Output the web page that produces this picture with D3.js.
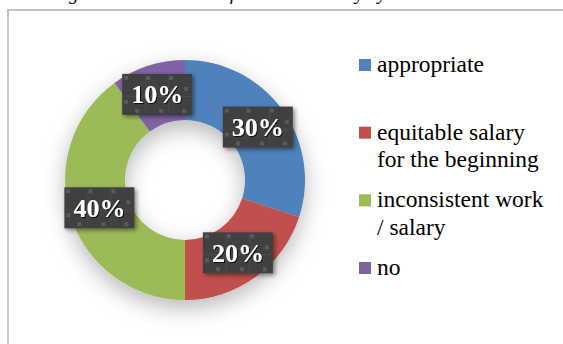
<!DOCTYPE html>
<html>
<head>
<meta charset="utf-8">
<script src="https://cdn.jsdelivr.net/npm/d3@7"></script>
<style>
  body { margin: 0; background: #fff; overflow: hidden; }
  svg { display: block; }
  text { font-family: "Liberation Serif", "DejaVu Serif", serif; }
</style>
</head>
<body>
<script>
// data
var categories = ["appropriate", "equitable salary for the beginning", "inconsistent work / salary", "no"];
var legendLines = [["appropriate"], ["equitable salary", "for the beginning"], ["inconsistent work", "/ salary"], ["no"]];
var shares = [30, 20, 40, 10];
var labels = ["30%", "20%", "40%", "10%"];
var colors = ["#4f81bd", "#c0504d", "#9bbb59", "#8064a2"];

var width = 563, height = 344;

var svg = d3.select("body").append("svg")
    .attr("width", width)
    .attr("height", height);

var defs = svg.append("defs");

// soft shadow under the ring
var f = defs.append("filter").attr("id", "ringShadow")
    .attr("x", "-40%").attr("y", "-40%").attr("width", "180%").attr("height", "180%");
f.append("feDropShadow").attr("dx", 0).attr("dy", 8)
    .attr("stdDeviation", 11).attr("flood-color", "#000").attr("flood-opacity", 0.28);

var fb = defs.append("filter").attr("id", "boxShadow")
    .attr("x", "-30%").attr("y", "-30%").attr("width", "160%").attr("height", "160%");
fb.append("feDropShadow").attr("dx", 2).attr("dy", 2)
    .attr("stdDeviation", 2).attr("flood-color", "#000").attr("flood-opacity", 0.45);

var ft = defs.append("filter").attr("id", "textShadow");
ft.append("feDropShadow").attr("dx", 1).attr("dy", 1)
    .attr("stdDeviation", 0.6).attr("flood-color", "#000").attr("flood-opacity", 0.8);

// caption above the frame, cut off by the top edge as in the source
svg.append("text")
    .attr("x", 52).attr("y", 0)
    .style("font-style", "italic")
    .style("font-size", "19px")
    .attr("fill", "#000")
    .text("Figure 6. Correlation of work and salary by assistants");

// chart frame (left and top edges visible)
svg.append("path")
    .attr("d", "M8," + height + "V10H" + width)
    .attr("fill", "none")
    .attr("stroke", "#c4c4c4")
    .attr("stroke-width", 2);

// donut
var cx = 185, cy = 180, outerR = 120, innerR = 60;

var pie = d3.pie().sort(null).value(function(d) { return d; });
var arc = d3.arc().innerRadius(innerR).outerRadius(outerR);
var labelArc = d3.arc().innerRadius(90).outerRadius(90);

var arcs = pie(shares);

var g = svg.append("g").attr("transform", "translate(" + cx + "," + cy + ")");

g.append("g").attr("filter", "url(#ringShadow)")
  .selectAll("path")
  .data(arcs)
  .enter()
  .append("path")
  .attr("d", arc)
  .attr("fill", function(d, i) { return colors[i]; });

// little squares decorating each label box
var dots = [[2, 2], [24, 2], [47, 2], [62, 13], [2, 26], [13, 35], [37, 35], [60, 35]];
var boxW = 70, boxH = 41;

var lbl = g.selectAll(".lbl")
  .data(arcs)
  .enter()
  .append("g")
  .attr("class", "lbl")
  .attr("transform", function(d) {
      var c = labelArc.centroid(d);
      return "translate(" + (c[0] - boxW / 2) + "," + (c[1] - boxH / 2) + ")";
  });

lbl.append("rect")
  .attr("width", boxW).attr("height", boxH)
  .attr("fill", "#3f3f3f")
  .attr("filter", "url(#boxShadow)");

lbl.append("path")
  .attr("d", "M23.5,0V" + boxH + "M46.5,0V" + boxH + "M0,22.5H" + boxW)
  .attr("stroke", "#4b4b4b")
  .attr("stroke-width", 1)
  .attr("fill", "none");

lbl.selectAll(".dot")
  .data(dots)
  .enter()
  .append("rect")
  .attr("class", "dot")
  .attr("x", function(d) { return d[0]; })
  .attr("y", function(d) { return d[1]; })
  .attr("width", 4).attr("height", 4)
  .attr("fill", "#5a5a5a");

lbl.append("text")
  .attr("x", boxW / 2)
  .attr("y", boxH / 2 + 9)
  .attr("text-anchor", "middle")
  .attr("fill", "#fff")
  .attr("filter", "url(#textShadow)")
  .style("font-weight", "bold")
  .style("font-size", "26px")
  .text(function(d, i) { return labels[i]; });

// legend
var legendY = d3.scaleLinear().domain([0, categories.length - 1]).range([72, 275]);

var leg = svg.selectAll(".leg")
  .data(categories)
  .enter()
  .append("g")
  .attr("class", "leg")
  .attr("transform", function(d, i) { return "translate(359," + legendY(i) + ")"; });

leg.append("rect")
  .attr("x", 0).attr("y", -13)
  .attr("width", 12).attr("height", 12)
  .attr("fill", function(d, i) { return colors[i]; });

leg.append("text")
  .attr("x", 18)
  .attr("y", 0)
  .attr("fill", "#000")
  .style("font-size", "23.5px")
  .selectAll("tspan")
  .data(function(d, i) { return legendLines[i]; })
  .enter()
  .append("tspan")
  .attr("x", 18)
  .attr("dy", function(d, j) { return j === 0 ? 0 : 27.5; })
  .text(function(d) { return d; });
</script>
</body>
</html>
